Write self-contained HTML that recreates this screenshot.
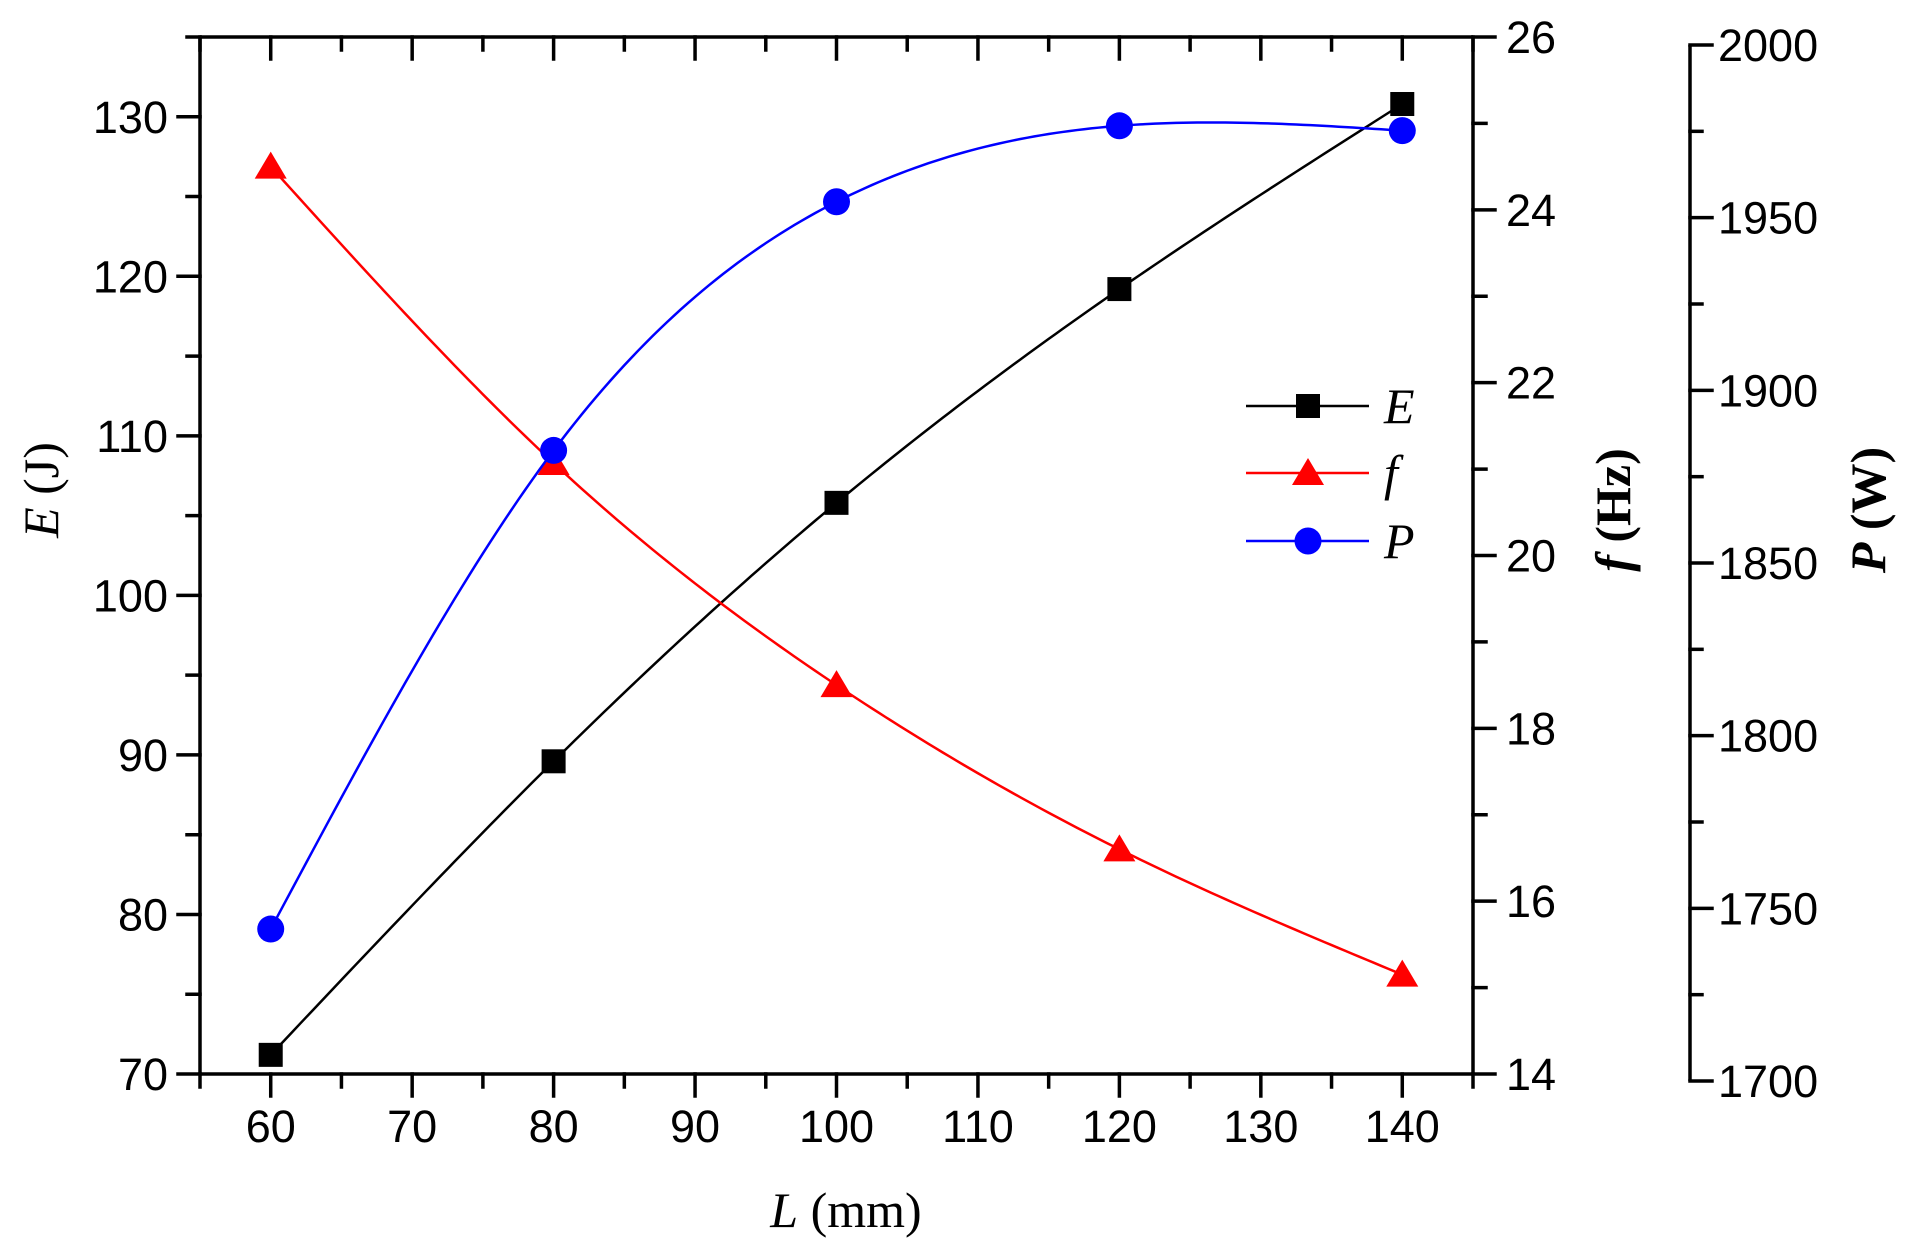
<!DOCTYPE html>
<html><head><meta charset="utf-8"><style>
html,body{margin:0;padding:0;background:#fff;}
svg{display:block;}
text{font-family:"Liberation Sans",Arial,sans-serif;}
.serif{font-family:"Liberation Serif","Times New Roman",serif;}
</style></head>
<body>
<svg id="chart" width="1920" height="1259" viewBox="0 0 1920 1259" xmlns="http://www.w3.org/2000/svg"></svg>
<script>
const categories = [60, 80, 100, 120, 140];
const energyValues = [71.2, 89.6, 105.8, 119.2, 130.8];
const freqValues = [24.5, 21.07, 18.5, 16.6, 15.15];
const powerValues = [1744, 1882.6, 1954.6, 1976.6, 1975.2];
const xTicks = [60, 70, 80, 90, 100, 110, 120, 130, 140];
const eTicks = [70, 80, 90, 100, 110, 120, 130];
const fTicks = [14, 16, 18, 20, 22, 24, 26];
const pTicks = [1700, 1750, 1800, 1850, 1900, 1950, 2000];

const NS = "http://www.w3.org/2000/svg";
const svg = document.getElementById('chart');
const L = 200, R = 1473, T = 37, B = 1074, PX = 1690, PT = 45, PB = 1081;
const FS = 45;
const xs = v => L + (v - 55) / 90 * (R - L);
const ye = v => B - (v - 70) / 65 * (B - T);
const yf = v => B - (v - 14) / 12 * (B - T);
const yp = v => PB - (v - 1700) / 300 * (PB - PT);

function mk(tag, attrs, parent) {
  const el = document.createElementNS(NS, tag);
  for (const k in attrs) el.setAttribute(k, attrs[k]);
  (parent || svg).appendChild(el);
  return el;
}
function line(x1, y1, x2, y2, w, c) {
  return mk('line', {x1, y1, x2, y2, stroke: c || '#000', 'stroke-width': w || 3.5, 'stroke-linecap': 'square'});
}
function txt(x, y, s, size, anchor, cls) {
  const t = mk('text', {x, y, 'font-size': size, 'text-anchor': anchor || 'middle'});
  if (cls) t.setAttribute('class', cls);
  t.textContent = s;
  return t;
}

const frame = mk('g', {});


mk('line', {x1: L, y1: T, x2: R, y2: T, stroke: '#000', 'stroke-width': 3.5}, frame);
mk('line', {x1: L, y1: B, x2: R, y2: B, stroke: '#000', 'stroke-width': 3.5}, frame);
mk('line', {x1: L, y1: T, x2: L, y2: B, stroke: '#000', 'stroke-width': 3.5}, frame);
mk('line', {x1: R, y1: T, x2: R, y2: B, stroke: '#000', 'stroke-width': 3.5}, frame);
mk('line', {x1: PX, y1: PT, x2: PX, y2: PB, stroke: '#000', 'stroke-width': 3.5}, frame);

for (let v = 55; v <= 145; v += 5) {
  const x = xs(v), major = (v % 10 === 0);
  line(x, B, x, B + (major ? 22 : 13));
  line(x, T, x, T + (major ? 22 : 13));
}
xTicks.forEach(v => {
  const t = txt(xs(v), B + 68, String(v), FS);
  
  
});
for (let v = 70; v <= 135; v += 5) {
  const y = ye(v), major = (v % 10 === 0);
  line(L, y, L - (major ? 22 : 13), y);
}
eTicks.forEach(v => {
  const t = txt(L - 32, ye(v) + 16, String(v), FS, 'end');
  
  
});
for (let v = 14; v <= 26; v += 1) {
  const y = yf(v), major = (v % 2 === 0);
  line(R, y, R + (major ? 22 : 13), y);
}
fTicks.forEach(v => {
  const t = txt(R + 33, yf(v) + 16, String(v), FS, 'start');
  
  
});
for (let v = 1700; v <= 2000; v += 25) {
  const y = yp(v), major = (v % 50 === 0);
  line(PX, y, PX + (major ? 22 : 12), y);
}
pTicks.forEach(v => {
  const t = txt(PX + 28, yp(v) + 16, String(v), FS, 'start');
  
  
});

let t = mk('text', {x: 846, y: 1227, 'font-size': 50, 'text-anchor': 'middle', class: 'serif'});
t.innerHTML = '<tspan font-style="italic">L</tspan> (mm)';
 
t = mk('text', {x: 0, y: 0, 'font-size': 50, 'text-anchor': 'middle', class: 'serif', transform: 'translate(58,490) rotate(-90)'});
t.innerHTML = '<tspan font-style="italic">E</tspan> (J)';
 
t = mk('text', {x: 0, y: 0, 'font-size': 50, 'text-anchor': 'middle', class: 'serif', 'font-weight': 'bold', transform: 'translate(1630,510) rotate(-90)'});
t.innerHTML = '<tspan font-style="italic">f</tspan> (Hz)';
 
t = mk('text', {x: 0, y: 0, 'font-size': 50, 'text-anchor': 'middle', class: 'serif', 'font-weight': 'bold', transform: 'translate(1885,510) rotate(-90)'});
t.innerHTML = '<tspan font-style="italic">P</tspan> (W)';
 

function splinePath(px, py) {
  const n = px.length, h = [], a = [], l = [1], mu = [0], z = [0], c = new Array(n).fill(0), b = [], d = [];
  for (let i = 0; i < n - 1; i++) h.push(px[i + 1] - px[i]);
  for (let i = 1; i < n - 1; i++) a[i] = 3 / h[i] * (py[i + 1] - py[i]) - 3 / h[i - 1] * (py[i] - py[i - 1]);
  for (let i = 1; i < n - 1; i++) {
    l[i] = 2 * (px[i + 1] - px[i - 1]) - h[i - 1] * mu[i - 1];
    mu[i] = h[i] / l[i];
    z[i] = (a[i] - h[i - 1] * z[i - 1]) / l[i];
  }
  for (let j = n - 2; j >= 0; j--) {
    c[j] = (j === n - 2 ? 0 : z[j] - mu[j] * c[j + 1]);
    if (j > 0) c[j] = z[j] - mu[j] * c[j + 1];
    b[j] = (py[j + 1] - py[j]) / h[j] - h[j] * (c[j + 1] + 2 * c[j]) / 3;
    d[j] = (c[j + 1] - c[j]) / (3 * h[j]);
  }
  let s = '';
  for (let i = 0; i < n - 1; i++) {
    for (let k = 0; k <= 40; k++) {
      const dx = h[i] * k / 40;
      const y = py[i] + b[i] * dx + c[i] * dx * dx + d[i] * dx * dx * dx;
      s += (s ? 'L' : 'M') + (px[i] + dx).toFixed(2) + ',' + y.toFixed(2);
    }
  }
  return s;
}

function series(name, vals, yfn, color, marker) {
  const g = mk('g', {});
  
  
  const px = categories.map(xs), py = vals.map(yfn);
  const p = mk('path', {d: splinePath(px, py), fill: 'none', stroke: color, 'stroke-width': 2.5}, g);
  
  
  vals.forEach((v, i) => {
    const m = drawMarker(marker, px[i], py[i], color, g);
    
    
  });
}
function drawMarker(type, x, y, color, parent) {
  if (type === 'square') return mk('rect', {x: x - 12, y: y - 12, width: 24, height: 24, fill: color}, parent);
  if (type === 'circle') return mk('circle', {cx: x, cy: y, r: 13.5, fill: color}, parent);
  return mk('polygon', {points: `${x},${y - 15} ${x - 16},${y + 12} ${x + 16},${y + 12}`, fill: color}, parent);
}
series('energy', energyValues, ye, '#000', 'square');
series('frequency', freqValues, yf, '#ff0000', 'triangle');
series('power', powerValues, yp, '#0000ff', 'circle');

const leg = mk('g', {});


[['E', '#000', 'square', 406], ['f', '#ff0000', 'triangle', 473], ['P', '#0000ff', 'circle', 541]].forEach(([lab, col, mkr, y]) => {
  const e = mk('g', {}, leg);
  
  
  mk('line', {x1: 1246, y1: y, x2: 1369, y2: y, stroke: col, 'stroke-width': 2.5}, e);
  drawMarker(mkr, 1308, y, col, e);
  const tt = mk('text', {x: 1384, y: y + 17, 'font-size': 50, 'font-style': 'italic', class: 'serif'}, e);
  tt.textContent = lab;
});
</script>
</body></html>
